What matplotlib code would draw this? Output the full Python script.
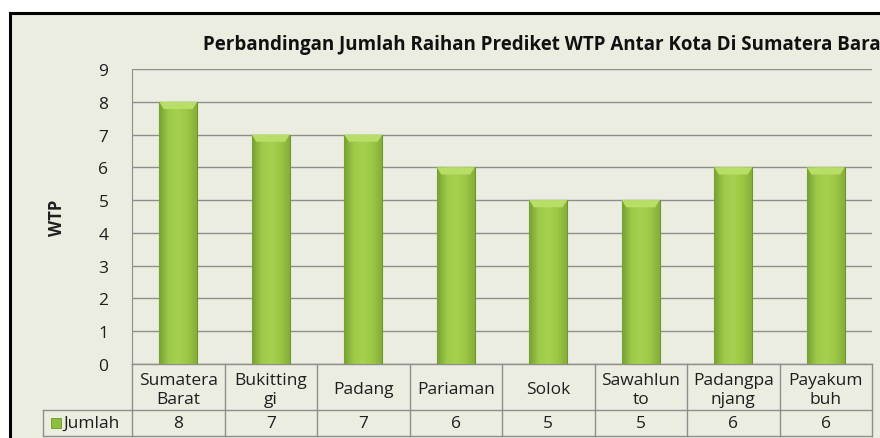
import numpy as np
import matplotlib.pyplot as plt
from matplotlib.transforms import blended_transform_factory
from matplotlib.colors import LinearSegmentedColormap

# data
kota = ["Sumatera\nBarat", "Bukitting\ngi", "Padang", "Pariaman", "Solok",
        "Sawahlun\nto", "Padangpa\nnjang", "Payakum\nbuh"]
jumlah = [8, 7, 7, 6, 5, 5, 6, 6]
seri = "Jumlah"
judul = "Perbandingan Jumlah Raihan Prediket WTP Antar Kota Di Sumatera Barat"

plt.rcParams['font.family'] = ['Open Sans', 'DejaVu Sans']
bg = '#EBEDE0'
garis = '#8E8E8E'
teks = '#1E1E1E'

fig = plt.figure(figsize=(8.8, 4.39), dpi=100)
fig.patch.set_facecolor('white')

# chart area with black frame (cut at right and bottom, like the screenshot)
frame = plt.Rectangle((10 / 880, -0.1), 1.2, (439 - 14) / 439 + 0.1,
                      transform=fig.transFigure, facecolor=bg,
                      edgecolor='black', linewidth=2.2, zorder=-5)
fig.patches.append(frame)

ax = fig.add_axes([132 / 880, (439 - 365) / 439, 740 / 880, 295 / 439])
ax.patch.set_alpha(0)

x = np.arange(len(kota))
bars = ax.bar(x, jumlah, width=0.41, color='#9CC845', edgecolor='#6F9530',
              linewidth=0.8, zorder=3)

# gradient fill on each bar
cmap = LinearSegmentedColormap.from_list(
    'g', ['#77A033', '#9DCA48', '#A6D150', '#9CC845', '#86AE3A'])
gx = np.linspace(0, 1, 64)
for b in bars:
    x0, w, h = b.get_x(), b.get_width(), b.get_height()
    img = np.tile(gx, (32, 1))
    im = ax.imshow(img, cmap=cmap, extent=[x0, x0 + w, 0, h], aspect='auto',
                   zorder=3.5, interpolation='bicubic')
    im.set_clip_path(b)
    # lighter bevel at the top
    bev = plt.Polygon([[x0, h], [x0 + w, h], [x0 + w * 0.88, h - 0.22],
                       [x0 + w * 0.12, h - 0.22]], closed=True,
                      facecolor='#B8DE68', edgecolor='none', zorder=3.6)
    ax.add_patch(bev)

ax.set_xlim(-0.5, len(kota) - 0.5)
ax.set_ylim(0, 9)
ax.set_yticks(range(10))
ax.set_xticks([])
ax.tick_params(axis='y', length=0, pad=17, labelsize=12.5, labelcolor=teks)
ax.yaxis.grid(True, color=garis, linewidth=1)
ax.set_axisbelow(True)
for s in ['top', 'right', 'bottom']:
    ax.spines[s].set_visible(False)
ax.spines['left'].set_color(garis)
ax.set_ylabel("WTP", fontsize=12, fontweight='bold', labelpad=23, color=teks)

# data table below the axis
tr = blended_transform_factory(ax.transData, ax.transAxes)
h1, h2 = -0.156, -0.244
kiri = -0.5 - 89 / 92.5
kw = dict(color=garis, linewidth=1, clip_on=False, zorder=2)
ax.plot([-0.5, 7.5], [0, 0], transform=tr, **kw)
ax.plot([kiri, 7.5], [h1, h1], transform=tr, **kw)
ax.plot([kiri, 7.5], [h2, h2], transform=tr, **kw)
ax.plot([kiri, kiri], [h1, h2], transform=tr, **kw)
for b in np.arange(-0.5, len(kota)):
    ax.plot([b, b], [0, h2], transform=tr, **kw)

for i, (k, v) in enumerate(zip(kota, jumlah)):
    ax.text(i, h1 / 2 - 0.008, k, transform=tr, ha='center', va='center',
            fontsize=12.5, linespacing=1.25, color=teks)
    ax.text(i, (h1 + h2) / 2, str(v), transform=tr, ha='center', va='center',
            fontsize=12.5, color=teks)

ax.scatter([kiri + 0.14], [(h1 + h2) / 2], marker='s', s=55, color='#8DBE3C',
           edgecolor='#6F9530', linewidth=0.6, transform=tr, clip_on=False,
           zorder=4)
ax.text(kiri + 0.22, (h1 + h2) / 2, seri, transform=tr, ha='left', va='center',
        fontsize=12.5, color=teks)

fig.text(203 / 880, (439 - 45) / 439, judul, ha='left', va='center',
         fontsize=13.5, fontweight='bold', color='#111111')

fig.savefig('out.png', dpi=100, facecolor=fig.get_facecolor())
